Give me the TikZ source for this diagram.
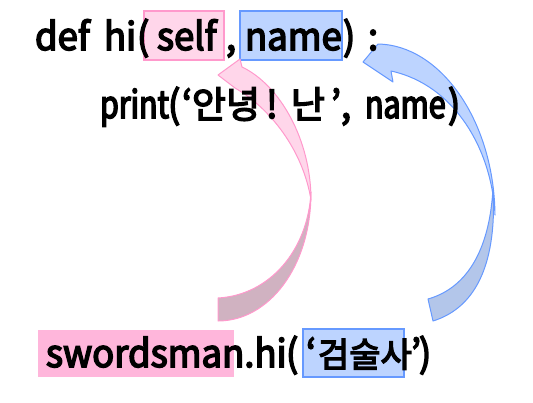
\documentclass[tikz,border=0pt]{standalone}
\usepackage{fontspec}
\setmainfont{Noto Sans CJK KR}[FakeStretch=0.96, FakeBold=4]
\newfontfamily\narrowfont{Noto Sans CJK KR}[FakeStretch=0.8, FakeBold=4]
\newfontfamily\hangul{Noto Sans CJK KR}[FakeBold=4]
\definecolor{pinkfill}{HTML}{FFD6EA}
\definecolor{pinkline}{HTML}{FF99CC}
\definecolor{pinkdark}{HTML}{FFB6DB}
\definecolor{pinkback}{HTML}{D0B2C1}
\definecolor{bluefill}{HTML}{BDD4FF}
\definecolor{blueline}{HTML}{6699FF}
\definecolor{blueback}{HTML}{B3C6EA}
\tikzset{
  txt/.style={anchor=base west, inner sep=0pt, outer sep=0pt, font=\fontsize{38}{40}\selectfont},
  narrowtxt/.style={txt, font=\fontsize{38}{40}\selectfont\narrowfont},
  hg/.style={txt, font=\fontsize{37}{40}\selectfont\hangul},
  hgsmall/.style={txt, font=\fontsize{34}{36}\selectfont\hangul},
  pinkbox/.style={fill=pinkfill, draw=pinkline, line width=1.2pt},
  bluebox/.style={fill=bluefill, draw=blueline, line width=1.2pt},
  pinkarrowfront/.style={fill=pinkfill, draw=pinkline, line width=1pt, line join=round},
  pinkarrowback/.style={fill=pinkback, draw=pinkline, line width=1pt, line join=round},
  bluearrowfront/.style={fill=bluefill, draw=blueline, line width=1pt, line join=round},
  bluearrowback/.style={fill=blueback, draw=blueline, line width=1pt, line join=round},
}
\begin{document}
\begin{tikzpicture}[x=1pt,y=-1pt]
\useasboundingbox (0,0) rectangle (533,402);
% boxes
\draw[pinkbox] (144,11) rectangle (224,60);
\draw[bluebox] (240,11) rectangle (342,60);
\fill[pinkdark] (38,330) rectangle (234,377);
\draw[bluebox] (303,329) rectangle (404,377);
% pink arrow
\draw[pinkarrowback] (218,298) -- (218,321) .. controls (268,321) and (311,268) .. (311,192)
  .. controls (308,250) and (270,295) .. (218,298) -- cycle;
\draw[pinkarrowfront] (218,75) -- (240,59) -- (242,67) .. controls (280,85) and (311,140) .. (311,200)
  .. controls (303,150) and (270,108) .. (235,88) -- cycle;
% blue arrow
\draw[bluearrowback] (428,299) -- (433,321) .. controls (478,307) and (497,260) .. (493,188)
  .. controls (490,245) and (470,287) .. (428,299) -- cycle;
\draw[bluearrowfront] (363,62) -- (378,44) .. controls (440,45) and (494,120) .. (495,215)
  .. controls (492,150) and (455,85) .. (391,71) -- (393,82) -- cycle;
% line 1
\node[txt] (def) at (35,50) {def};
\node[txt] (hi) at (104,50) {hi};
\node[txt] (lp1) at (137,50) {(};
\node[txt] (self) at (157,50) {self};
\node[txt] (comma1) at (226,50) {,};
\node[txt] (name1) at (245,50) {name};
\node[txt] (rp1) at (343,50) {)};
\node[txt] (colon) at (368,50) {:};
% line 2
\node[narrowtxt] (print) at (100,118) {print};
\node[txt] (lp2) at (168,118) {(};
\node[txt] (lq2) at (182,118) {‘};
\node[hg] (an) at (192,118) {안녕};
\node[txt] (excl) at (266,118) {!};
\node[hg] (nan) at (291,118) {난};
\node[txt] (rq2) at (331,118) {’};
\node[txt] (comma2) at (341,118) {,};
\node[narrowtxt] (name2) at (365,118) {name};
\node[txt] (rp2) at (448,118) {)};
% line 3
\node[txt] (sword) at (46,367) {swordsman.hi};
\node[txt] (lp3) at (286,367) {(};
\node[txt] (lq3) at (306,367) {‘};
\node[hgsmall] (gum) at (318,367) {검술사};
\node[txt] (rq3) at (411,367) {’};
\node[txt] (rp3) at (419,367) {)};
\end{tikzpicture}
\end{document}
